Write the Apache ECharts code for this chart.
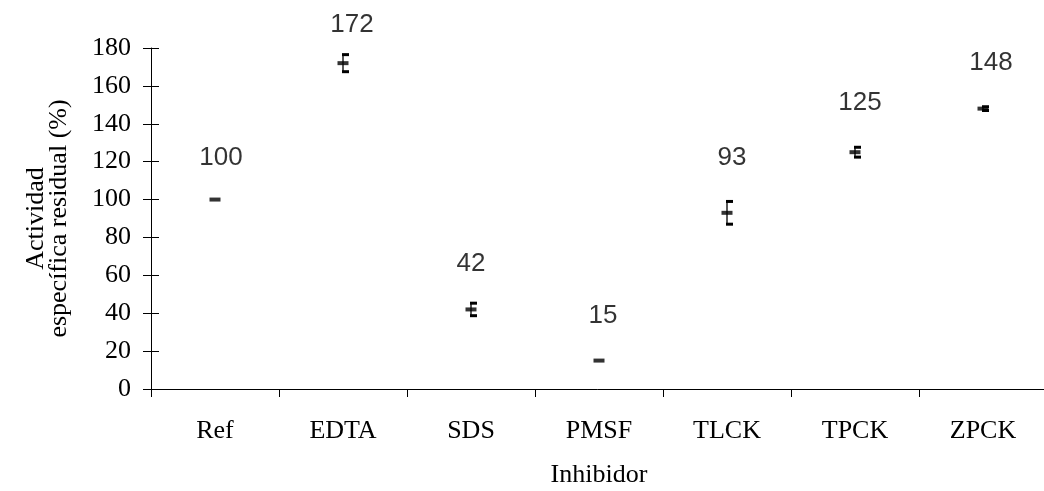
<!DOCTYPE html>
<html>
<head>
<meta charset="utf-8">
<script src="https://cdn.jsdelivr.net/npm/echarts@6/dist/echarts.min.js"></script>
<style>html,body{margin:0;padding:0;background:#fff;}#c{width:1044px;height:491px;}</style>
</head>
<body>
<div id="c"></div>
<script>
const categories = ['Ref', 'EDTA', 'SDS', 'PMSF', 'TLCK', 'TPCK', 'ZPCK'];
const values = [100, 172, 42, 15, 93, 125, 148];
const errors = [0, 4.5, 3.3, 0, 6, 2.6, 1];
const yTicks = { min: 0, max: 180, interval: 20 };
// label placement relative to the marker (px)
const labelOffsets = [[6, -42], [9, -38], [0, -46], [4, -45], [5, -55], [5, -49], [8, -46]];

const chart = echarts.init(document.getElementById('c'));
const serif = '"Liberation Serif", "Times New Roman", serif';
const sans = '"Liberation Sans", Arial, sans-serif';

chart.setOption({
  animation: false,
  backgroundColor: '#fff',
  grid: { left: 151, right: -3, top: 48, bottom: 102, containLabel: false, outerBoundsMode: 'none' },
  xAxis: {
    type: 'category',
    data: categories,
    boundaryGap: true,
    name: 'Inhibidor',
    nameLocation: 'middle',
    nameGap: 73,
    nameTextStyle: { fontFamily: serif, fontSize: 26, color: '#000' },
    axisLine: { lineStyle: { color: '#000', width: 1 } },
    axisTick: { show: true, alignWithLabel: false, length: 8, lineStyle: { color: '#000' } },
    axisLabel: { fontFamily: serif, fontSize: 26, color: '#000', margin: 29 },
    splitLine: { show: false }
  },
  yAxis: [{
    type: 'value',
    min: yTicks.min, max: yTicks.max, interval: yTicks.interval,
    name: 'Actividad\nespecífica residual (%)',
    nameLocation: 'middle',
    nameGap: 80,
    nameRotate: 90,
    nameTextStyle: { fontFamily: serif, fontSize: 26, color: '#000', lineHeight: 23 },
    axisLine: { show: true, lineStyle: { color: '#000', width: 1 } },
    axisTick: { show: true, length: 8, lineStyle: { color: '#000' } },
    axisLabel: { fontFamily: serif, fontSize: 26, color: '#000', margin: 20 },
    splitLine: { show: false }
  }, {
    type: 'value',
    position: 'left',
    min: yTicks.min, max: yTicks.max, interval: yTicks.interval,
    axisLine: { show: false },
    axisTick: { show: true, inside: true, length: 8, lineStyle: { color: '#000' } },
    axisLabel: { show: false },
    splitLine: { show: false }
  }],
  series: [{
    type: 'custom',
    z: 3,
    data: values.map((v, i) => [i, v, errors[i]]),
    renderItem: function (params, api) {
      const i = api.value(0), v = api.value(1), e = api.value(2);
      if (!e) return { type: 'group', children: [] };
      const top = api.coord([i, v + e]);
      const bot = api.coord([i, v - e]);
      const x = top[0];
      return {
        type: 'group',
        children: [
          { type: 'line', shape: { x1: x, y1: top[1], x2: x, y2: bot[1] }, style: { stroke: '#222', lineWidth: 1.5 } },
          { type: 'rect', shape: { x: x - 1, y: top[1] - 1.5, width: 7, height: 3 }, style: { fill: '#000' } },
          { type: 'rect', shape: { x: x - 1, y: bot[1] - 1.5, width: 7, height: 3 }, style: { fill: '#000' } }
        ]
      };
    }
  }, {
    type: 'scatter',
    z: 4,
    data: values.map((v, i) => ({
      value: v,
      label: { offset: labelOffsets[i] }
    })),
    symbol: 'rect',
    symbolSize: [11, 4],
    itemStyle: { color: '#000' },
    label: {
      show: true,
      position: 'inside',
      fontFamily: sans,
      fontSize: 26,
      color: '#000'
    }
  }]
});
</script>
</body>
</html>
